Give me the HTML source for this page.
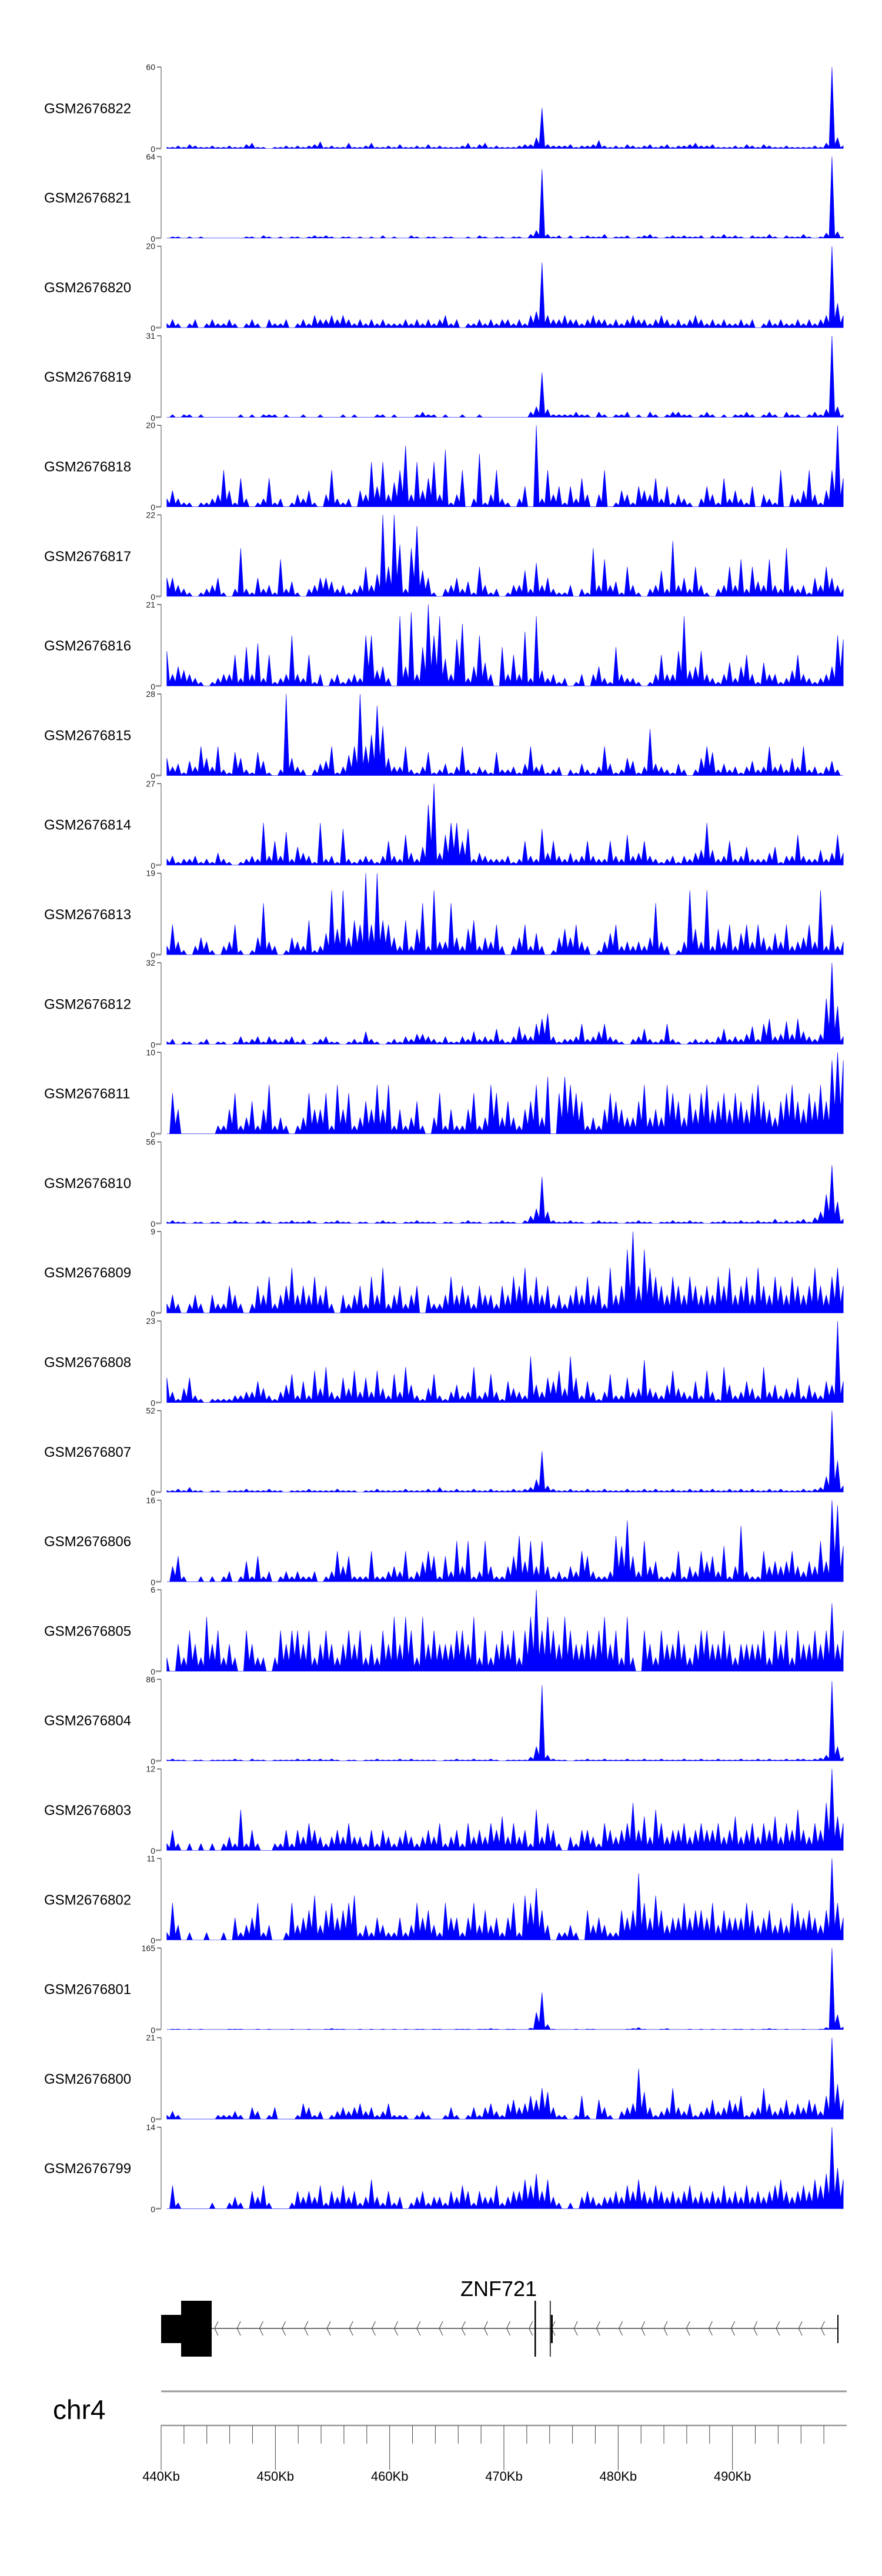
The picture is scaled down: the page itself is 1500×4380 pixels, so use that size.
<!DOCTYPE html>
<html><head><meta charset="utf-8"><style>
html,body{margin:0;padding:0;background:#fff;}
svg{display:block;font-family:"Liberation Sans",sans-serif;}
</style></head><body>
<svg id="chart" width="1500" height="4380" viewBox="0 0 1500 4380" xmlns="http://www.w3.org/2000/svg">
<rect width="1500" height="4380" fill="#fff"/>
<g id="tracks"></g>
<g id="gene"></g>
<g id="axis"></g>
</svg>
<script>
const sampleNames = ["GSM2676822","GSM2676821","GSM2676820","GSM2676819","GSM2676818","GSM2676817","GSM2676816","GSM2676815","GSM2676814","GSM2676813","GSM2676812","GSM2676811","GSM2676810","GSM2676809","GSM2676808","GSM2676807","GSM2676806","GSM2676805","GSM2676804","GSM2676803","GSM2676802","GSM2676801","GSM2676800","GSM2676799"];
const scaleMax = [60,64,20,31,20,22,21,28,27,19,32,10,56,9,23,52,16,6,86,12,11,165,21,14];
const axisStartKb = 440;
const axisEndKb = 500;
const axisLabels = ["440Kb","450Kb","460Kb","470Kb","480Kb","490Kb"];
const geneName = "ZNF721";

const v822 = [1,1,2,1,3,2,1,1,2,1, 1,2,1,1,3,4,1,1,0,1, 1,2,1,2,1,2,3,5,1,2, 1,1,4,1,1,2,4,1,1,2, 1,3,1,1,2,1,3,1,2,1, 1,1,2,4,1,3,4,1,2,1, 1,1,2,3,3,8,30,3,2,2, 2,3,1,2,2,3,6,2,1,2, 1,3,2,1,2,3,1,2,3,1, 2,2,3,4,2,2,3,1,1,1, 2,1,3,2,1,3,2,1,1,2, 1,1,1,1,2,1,4,60,8,2];
const v821 = [0,1,1,0,1,0,1,0,0,0, 0,0,0,0,1,1,0,2,1,0, 1,0,1,1,0,1,2,1,2,1, 0,1,1,0,1,0,1,0,2,0, 1,0,0,2,1,0,1,1,0,1, 1,0,0,1,0,2,1,0,1,1, 0,1,1,0,3,6,54,3,1,2, 0,2,0,1,2,1,1,3,0,1, 1,2,0,1,2,3,1,0,1,2, 1,2,1,1,2,0,2,1,3,1, 2,1,0,2,1,1,3,1,0,2, 1,1,3,1,0,1,4,64,5,1];
const v820 = [1,2,1,0,1,2,0,1,2,1, 1,2,1,0,1,2,1,0,2,1, 1,2,0,1,2,1,3,2,2,3, 2,3,2,1,2,1,2,1,2,1, 1,1,2,1,2,1,2,1,2,3, 1,2,0,1,1,2,1,2,1,2, 2,1,2,1,3,4,16,3,2,2, 3,2,2,1,2,3,2,2,1,2, 1,2,3,2,2,1,2,3,2,1, 2,1,2,3,2,1,2,1,2,1, 1,2,1,2,0,1,2,1,2,1, 1,2,1,2,1,2,3,20,6,3];
const v819 = [0,1,0,1,1,0,1,0,0,0, 0,0,0,1,0,1,0,1,1,1, 0,1,0,0,1,0,0,1,0,0, 0,1,0,1,0,0,0,1,1,0, 1,0,0,0,1,2,1,1,0,1, 0,0,1,0,0,1,0,0,0,0, 0,0,0,0,2,4,17,3,1,1, 1,1,2,1,1,0,2,1,0,1, 1,2,0,1,0,2,1,0,1,2, 2,1,1,0,1,2,1,0,1,0, 1,1,2,1,0,1,2,1,0,2, 1,1,0,1,2,1,3,31,4,1];
const v818 = [2,4,2,1,1,0,1,1,2,3, 9,4,1,7,2,0,1,2,7,1, 2,0,1,3,2,4,1,0,3,9, 2,1,2,0,4,3,11,5,11,3, 6,9,15,3,11,4,7,11,3,14, 1,3,9,0,2,13,1,3,9,2, 1,0,2,5,0,20,2,9,3,5, 1,5,2,7,3,0,3,9,0,1, 4,3,1,5,4,3,7,2,5,1, 3,2,1,0,2,5,3,1,7,2, 4,2,1,5,0,3,2,1,9,0, 3,2,4,9,3,1,4,9,20,7];
const v817 = [5,5,3,2,1,0,1,2,3,5, 1,0,2,13,2,1,5,2,3,1, 10,2,4,1,0,2,3,5,5,4, 2,3,1,2,3,8,3,6,22,8, 22,14,2,13,19,7,5,1,0,2, 3,5,2,4,1,8,3,1,2,0, 1,3,3,7,2,9,3,5,2,1, 1,3,0,2,1,13,3,10,3,4, 1,8,3,1,0,2,3,7,2,15, 3,5,2,8,3,1,0,2,3,8, 3,10,2,8,4,3,10,3,2,13, 3,2,3,1,5,3,8,5,3,2];
const v816 = [9,3,5,4,3,2,1,0,1,2, 3,3,8,2,10,3,11,2,8,1, 2,3,13,3,2,8,1,3,0,2, 3,1,2,3,2,13,13,4,5,2, 0,18,5,19,3,10,21,13,18,7, 3,12,16,2,5,13,6,3,0,10, 3,8,3,14,2,18,4,2,3,1, 2,0,1,3,0,3,5,2,1,10, 3,2,2,1,0,1,3,8,3,3, 9,18,4,5,9,3,2,1,3,6, 2,5,8,3,1,6,3,3,1,2, 4,8,3,2,1,2,3,5,13,12];
const v815 = [6,3,4,1,5,3,10,6,3,10, 2,1,8,6,2,1,8,5,1,0, 2,28,6,3,2,0,2,4,5,10, 1,3,7,10,28,10,14,24,17,6, 3,3,10,2,1,3,8,1,2,4, 1,3,10,2,1,3,2,1,8,2, 2,3,1,4,10,3,4,1,2,3, 0,2,1,4,2,1,3,10,4,1, 2,6,5,1,3,16,4,3,2,1, 4,2,0,2,6,10,8,2,4,2, 3,1,3,5,2,3,10,3,4,2, 6,3,10,2,3,1,3,5,2,0];
const v814 = [2,3,1,2,2,3,1,2,1,4, 2,1,0,1,2,3,2,14,3,8, 3,11,2,6,4,3,1,14,2,3, 1,12,2,1,2,3,2,1,3,8, 3,2,10,4,2,6,20,27,4,10, 14,14,8,12,2,4,3,2,2,2, 3,1,2,8,3,2,12,4,8,3, 2,4,2,3,8,3,2,2,8,3, 2,10,3,4,8,3,2,1,2,3, 1,3,2,4,5,14,5,2,3,8, 2,3,6,2,2,2,4,6,1,3, 3,10,3,2,2,5,2,4,10,4];
const v813 = [2,7,3,1,0,2,4,3,1,0, 2,3,7,1,0,1,4,12,3,2, 0,1,4,3,2,8,1,2,5,15, 6,15,4,8,7,19,7,19,8,7, 4,2,8,2,6,12,2,15,3,3, 12,4,2,6,8,2,4,3,7,2, 0,2,4,7,2,5,2,0,1,4, 6,4,7,3,2,0,1,3,5,7, 2,3,2,3,2,4,12,3,2,0, 1,3,15,6,3,15,2,6,3,7, 2,5,7,3,7,4,2,5,3,7, 2,3,4,7,3,15,2,7,2,3];
const v812 = [1,2,0,1,1,0,1,2,0,1, 1,0,1,3,1,2,3,1,3,2, 1,2,3,1,2,0,1,2,3,1, 1,0,1,2,1,5,2,1,0,1, 2,1,3,2,4,4,3,2,1,3, 1,1,3,2,5,2,3,2,6,2, 1,3,7,4,3,8,10,12,3,1, 2,2,3,8,2,3,5,8,3,2, 1,0,2,3,6,2,1,2,8,2, 1,0,1,2,1,2,1,3,6,2, 3,2,4,7,2,8,10,3,4,9, 4,10,5,3,2,4,18,32,15,3];
const v811 = [0,5,3,0,0,0,0,0,0,1, 1,3,5,1,2,4,1,3,6,1, 2,1,0,1,2,5,3,3,5,1, 6,3,5,1,2,4,3,6,3,6, 1,3,1,2,4,1,0,2,5,1, 3,1,1,3,5,1,2,6,5,2, 4,2,1,3,4,6,2,7,0,5, 7,6,5,4,1,2,1,3,5,4, 3,2,2,4,6,2,3,2,6,5, 4,2,5,3,5,6,3,4,5,3, 5,4,3,5,6,4,3,2,4,5, 6,4,3,5,4,6,4,9,10,9];
const v810 = [1,2,1,1,0,1,1,0,1,1, 0,1,2,1,1,0,1,2,1,0, 1,1,2,1,1,2,1,0,1,1, 2,1,1,0,1,1,0,1,2,1, 1,0,1,1,2,1,1,1,0,1, 1,0,1,2,1,1,0,1,1,2, 1,1,0,2,5,10,32,8,2,1, 1,2,1,1,0,1,2,1,1,1, 0,1,1,2,1,1,0,1,1,2, 1,1,2,1,1,0,1,1,2,1, 1,2,1,1,2,1,1,3,1,2, 1,2,3,1,4,8,20,40,15,3];
const v809 = [1,2,1,0,1,2,1,0,2,1, 1,3,2,1,0,1,3,2,4,1, 2,3,5,2,3,2,4,2,3,1, 0,2,1,2,3,1,4,2,5,1, 2,3,1,2,3,0,2,1,1,2, 4,2,3,2,1,3,2,2,1,3, 2,4,3,5,2,4,2,3,1,2, 1,2,3,2,4,2,3,1,5,2, 3,7,9,3,7,5,4,3,2,4, 3,2,4,3,2,3,2,4,3,5, 2,3,4,2,5,3,2,4,3,2, 4,3,2,3,5,3,2,4,5,3];
const v808 = [7,3,1,4,7,2,1,0,1,1, 1,1,2,2,3,3,6,4,2,1, 3,5,8,2,6,2,9,4,10,3, 2,7,4,9,3,7,3,9,4,2, 8,3,10,5,2,1,4,8,2,1, 3,5,2,3,10,2,3,8,3,1, 6,4,3,2,13,5,3,7,6,9, 4,13,7,2,6,3,1,3,8,2, 2,7,3,4,12,4,3,2,5,9, 4,3,2,6,2,9,3,1,10,5, 2,3,6,4,2,10,3,5,2,4, 3,7,2,5,3,2,6,5,23,6];
const v807 = [1,1,2,1,3,1,1,0,1,1, 0,1,1,1,2,1,1,1,2,1, 1,0,1,1,1,2,1,1,1,1, 2,1,1,1,0,1,1,2,1,1, 1,1,2,1,1,1,2,1,3,1, 1,2,1,1,2,1,1,2,1,1, 1,2,1,2,3,8,26,4,2,1, 1,2,1,1,2,1,1,2,1,1, 1,2,1,1,2,1,2,1,1,2, 1,1,2,1,2,1,2,1,1,2, 1,2,1,2,1,1,2,1,2,1, 1,1,2,1,2,3,10,52,20,4];
const v806 = [0,3,5,1,0,0,1,0,1,0, 1,2,0,1,4,1,5,1,2,0, 1,2,1,2,1,1,2,0,1,2, 6,3,5,1,1,1,6,1,1,2, 3,2,6,1,2,4,6,5,1,5, 2,8,3,8,1,2,8,3,1,1, 3,5,9,4,8,3,8,3,1,2, 1,3,2,6,5,2,1,1,2,9, 7,12,5,2,8,3,4,1,1,2, 6,1,3,2,6,4,5,2,7,1, 3,11,2,1,1,6,3,4,3,4, 6,3,2,4,3,8,4,16,15,7];
const v805 = [1,0,2,1,3,2,1,4,2,3, 1,2,1,0,3,2,1,1,0,1, 3,2,3,3,2,3,1,2,3,2, 1,2,3,2,3,1,2,1,3,2, 4,2,4,3,1,4,2,3,2,2, 2,3,3,2,4,1,3,1,2,3, 2,3,1,3,4,6,3,4,3,2, 4,3,2,2,3,2,3,4,2,3, 1,4,1,0,3,2,1,3,2,2, 3,2,1,2,3,3,2,2,3,2, 1,2,2,2,2,3,1,3,2,3, 1,3,2,2,3,2,3,5,2,3];
const v804 = [1,2,1,1,0,1,1,0,1,1, 1,1,2,1,0,2,1,1,0,1, 1,1,1,2,1,2,1,2,1,2, 1,0,1,1,0,1,1,2,1,1, 1,2,1,2,1,1,1,1,0,1, 1,2,1,1,2,1,1,2,1,0, 1,1,1,1,4,15,80,6,2,1, 1,0,1,1,2,1,1,2,1,1, 1,2,1,1,2,1,1,2,1,1, 1,2,1,1,2,1,1,2,1,1, 1,2,1,1,2,1,2,1,1,2, 1,2,2,1,2,3,6,84,15,4];
const v803 = [1,3,1,0,1,0,1,0,1,0, 1,2,1,6,1,3,1,0,0,1, 1,3,1,3,2,4,3,2,1,2, 3,2,4,2,2,1,3,1,3,2, 1,2,3,2,1,2,3,2,4,1, 2,3,1,4,2,3,2,4,3,5, 2,4,2,3,1,6,2,4,3,1, 0,2,1,3,3,2,1,4,3,2, 3,4,7,3,5,2,6,4,2,3, 3,4,2,3,4,3,3,4,2,3, 5,2,3,4,2,4,3,5,2,4, 3,6,3,2,4,3,7,12,5,4];
const v802 = [1,5,2,0,1,0,0,1,0,0, 1,0,3,1,2,3,5,1,2,0, 0,1,5,2,3,4,6,2,4,5, 3,4,5,6,1,2,1,3,2,1, 1,3,1,2,5,3,4,2,1,5, 3,3,1,3,5,2,4,2,3,1, 3,5,1,6,5,7,4,2,0,1, 1,2,1,0,4,2,3,2,1,1, 4,3,4,9,5,3,6,4,2,3, 3,5,3,4,4,3,5,2,4,3, 3,3,5,4,2,3,4,2,3,2, 5,4,3,4,3,2,4,11,5,3];
const v801 = [0,1,1,0,1,0,1,0,0,0, 0,1,1,1,0,0,1,0,1,0, 0,0,1,0,0,1,0,0,1,2, 1,1,0,0,1,0,1,0,1,0, 1,0,1,0,1,1,0,1,1,0, 0,1,1,1,0,1,1,2,1,0, 1,1,0,0,3,35,75,10,1,0, 0,0,1,0,1,1,0,0,0,0, 0,1,2,4,1,0,0,1,2,0, 0,0,1,0,1,0,1,0,1,0, 1,1,0,1,0,1,2,1,0,1, 0,0,1,0,0,1,4,165,30,5];
const v800 = [1,2,1,0,0,0,0,0,0,1, 1,1,2,1,0,3,2,0,1,3, 0,0,0,1,4,3,1,2,0,1, 2,3,2,3,4,2,3,1,2,4, 1,1,1,0,1,2,1,0,0,1, 3,1,0,1,3,1,3,4,2,1, 4,5,3,4,6,5,8,7,3,1, 1,0,1,6,1,0,5,3,1,0, 2,3,4,13,7,3,1,2,3,8, 3,2,4,1,2,3,5,2,3,5, 4,6,1,2,3,8,4,2,3,5, 2,4,3,5,4,2,6,21,9,5];
const v799 = [0,4,1,0,0,0,0,0,1,0, 0,1,2,1,0,3,2,4,1,0, 0,0,1,3,2,3,2,4,1,3, 2,4,2,3,1,2,5,2,1,3, 1,2,0,1,2,3,1,2,2,1, 3,2,4,3,1,3,2,2,4,1, 2,3,3,5,4,6,3,5,2,1, 0,1,0,2,3,2,1,2,2,3, 2,4,3,5,3,2,4,3,2,3, 2,3,4,2,3,2,3,2,4,2, 3,2,4,2,3,2,3,4,5,3, 2,3,4,3,5,4,6,14,7,5];

const seriesList = [v822,v821,v820,v819,v818,v817,v816,v815,v814,v813,v812,v811,v810,v809,v808,v807,v806,v805,v804,v803,v802,v801,v800,v799];

const NS = "http://www.w3.org/2000/svg";
function mk(tag, attrs, parent){const e=document.createElementNS(NS,tag);for(const k in attrs)e.setAttribute(k,attrs[k]);parent.appendChild(e);return e;}

const plotL = 274, plotR = 1440;
const firstTop = 114, pitch = 152.3, trackH = 138.5;
function xKb(kb){return plotL + (kb-axisStartKb)/(axisEndKb-axisStartKb)*(plotR-plotL);}
function xBin(i,n){return xKb(axisStartKb + 0.25 + (i+0.5)*((axisEndKb-axisStartKb-0.3)/n));}

const tracksG = document.getElementById('tracks');
seriesList.forEach((vals, t) => {
  const top = firstTop + t*pitch, base = top + trackH, m = scaleMax[t];
  const yv = v => base - Math.min(v,m)/m*trackH;
  const g = mk('g',{},tracksG);
  
  
  const lab = mk('text',{x:75,y:top+trackH/2+9,'font-size':24,fill:'#000'},g);
  lab.textContent = sampleNames[t];
  
  
  const ax = mk('line',{x1:plotL,y1:top,x2:plotL,y2:base,stroke:'#888','stroke-width':1.5},g);
  
  
  mk('line',{x1:plotL-7,y1:top,x2:plotL,y2:top,stroke:'#555','stroke-width':1.5},g);
  mk('line',{x1:plotL-9,y1:base,x2:plotL,y2:base,stroke:'#999','stroke-width':3},g);
  const tmax = mk('text',{x:plotL-10,y:top+5,'font-size':14,'text-anchor':'end',fill:'#222'},g);
  tmax.textContent = String(m);
  
  
  const tz = mk('text',{x:plotL-10,y:base+6,'font-size':14,'text-anchor':'end',fill:'#222'},g);
  tz.textContent = "0";
  
  
  const n = vals.length;
  let d = 'M' + xBin(0,n).toFixed(1) + ',' + base;
  vals.forEach((v,i) => {
    d += ' L' + xBin(i,n).toFixed(1) + ',' + yv(v).toFixed(1);
    if (i < n-1) {
      const mid = (xBin(i,n) + xBin(i+1,n)) / 2;
      d += ' L' + mid.toFixed(1) + ',' + yv(Math.min(v, vals[i+1]) * 0.35).toFixed(1);
    }
  });
  d += ' L' + xBin(n-1,n).toFixed(1) + ',' + base + ' Z';
  const area = mk('path',{d:d,fill:'#0000ff',stroke:'#0000ff','stroke-width':0.6},g);
  
  
});

// gene track
const geneG = document.getElementById('gene');
const gl = mk('text',{x:848,y:3904,'font-size':36,'text-anchor':'middle',fill:'#000'},geneG);
gl.textContent = geneName;


const intron = mk('line',{x1:360,y1:3959,x2:1425,y2:3959,stroke:'#444','stroke-width':1.5},geneG);


for (let cx = 365; cx < 1420; cx += 38.2) {
  mk('polyline',{points:(cx+6)+','+(3947)+' '+cx+','+3959+' '+(cx+6)+','+3971,fill:'none',stroke:'#555','stroke-width':1.2},geneG);
}
const ex1 = mk('rect',{x:274,y:3936,width:36,height:48,fill:'#000'},geneG);


const ex2 = mk('rect',{x:308,y:3912,width:52,height:95,fill:'#000'},geneG);


mk('rect',{x:909,y:3912,width:2.5,height:95,fill:'#000'},geneG);
mk('rect',{x:935,y:3912,width:1.5,height:95,fill:'#000'},geneG);
mk('rect',{x:937,y:3936,width:3,height:48,fill:'#000'},geneG);
mk('rect',{x:1424,y:3936,width:2,height:48,fill:'#000'},geneG);

// axis
const axG = document.getElementById('axis');
mk('line',{x1:274,y1:4066,x2:1440,y2:4066,stroke:'#999','stroke-width':3},axG);
const chr = mk('text',{x:90,y:4113,'font-size':46,fill:'#000'},axG);
chr.textContent = 'chr4';


const axl = mk('line',{x1:274,y1:4124,x2:1440,y2:4124,stroke:'#999','stroke-width':2.5},axG);


for (let kb = axisStartKb; kb < axisEndKb; kb += 2) {
  const x = xKb(kb);
  const major = (kb % 10 === 0);
  mk('line',{x1:x,y1:4124,x2:x,y2:major?4200:4155,stroke:'#444','stroke-width':1},axG);
}
axisLabels.forEach((s,i) => {
  const t = mk('text',{x:xKb(axisStartKb+i*10),y:4218,'font-size':22,'text-anchor':'middle',fill:'#000'},axG);
  t.textContent = s;
  
  
});
</script>
</body></html>
